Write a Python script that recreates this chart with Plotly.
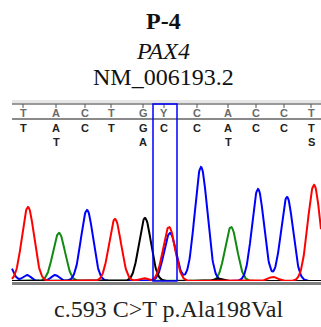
import numpy as np
import plotly.graph_objects as go

W, H = 321, 327

# ---- data ----
title_lines = ["<b>P-4</b>", "<i>PAX4</i>", "NM_006193.2"]
caption = "c.593 C>T p.Ala198Val"

# base calls: scan position, reference base, called base(s)
base_pos = [23, 56, 85, 111, 143, 164, 197, 228, 256, 284, 311]
ref_bases = ["T", "A", "C", "T", "G", "Y", "C", "A", "C", "C", "T"]
call_row1 = ["T", "A", "C", "T", "G", "C", "C", "A", "C", "C", "T"]
call_row2 = ["", "T", "", "", "A", "", "", "T", "", "", "S"]
variant_index = 5

# chromatogram peaks: (scan position, intensity, width)
peaks_red = [(28, 740, 6.0), (115, 620, 6.0), (169, 540, 6.0), (314, 960, 6.3),
             (273, 40, 5.0), (143, 30, 4.0)]
peaks_green = [(59, 480, 6.0), (231, 540, 6.0)]
peaks_blue = [(4, 300, 6.0), (27, 60, 4.0), (55, 60, 4.0), (87, 710, 6.0),
              (170, 480, 6.0), (201, 1140, 6.3), (258, 920, 6.0), (287, 840, 6.0)]
peaks_black = [(145, 630, 6.0), (218, 25, 4.0)]

scan_start, scan_end = 12, 321

# ---- geometry helpers ----
def py(p):
    return (H - p) / H

base_px, top_px = 281, 103
y_top = (base_px - top_px) * 10

scan = np.arange(scan_start, scan_end + 0.25, 0.5)

def trace_signal(peaks):
    s = np.zeros_like(scan, dtype=float)
    for c, h, w in peaks:
        s += h * np.exp(-((scan - c) ** 2) / (2 * w * w))
    return s

fig = go.Figure()
for peaks, col in [(peaks_green, "#108a10"), (peaks_blue, "#0000ff"),
                   (peaks_black, "#000000"), (peaks_red, "#ff0000")]:
    fig.add_trace(go.Scatter(x=scan, y=trace_signal(peaks), mode="lines",
                             line=dict(color=col, width=2), hoverinfo="skip",
                             showlegend=False, cliponaxis=False))

shapes = []
# light band + top line
shapes.append(dict(type="rect", xref="x", yref="paper", x0=scan_start, x1=scan_end,
                   y0=py(103.5), y1=py(100), fillcolor="#e6e6e6", line=dict(width=0), layer="below"))
shapes.append(dict(type="line", xref="x", yref="paper", x0=scan_start, x1=scan_end,
                   y0=py(104), y1=py(104), line=dict(color="#7a7a7a", width=1.5)))
shapes.append(dict(type="line", xref="x", yref="paper", x0=scan_start, x1=scan_end,
                   y0=py(119), y1=py(119), line=dict(color="#8a8a8a", width=2)))
# ticks
for bx in base_pos:
    shapes.append(dict(type="line", xref="x", yref="paper", x0=bx, x1=bx,
                       y0=py(104), y1=py(108), line=dict(color="#555555", width=1)))
# baseline
shapes.append(dict(type="line", xref="x", yref="paper", x0=scan_start, x1=scan_end,
                   y0=py(283.5), y1=py(283.5), line=dict(color="#808080", width=3)))
# variant box
vx = base_pos[variant_index]
shapes.append(dict(type="rect", xref="x", yref="paper", x0=vx - 11, x1=vx + 13,
                   y0=py(281), y1=py(104), line=dict(color="#0000ff", width=1.5)))

ann = []
serif = "Liberation Serif, Times New Roman, serif"
sans = "Liberation Sans, Arial, sans-serif"
for txt, yp in zip(title_lines, [21, 51, 77]):
    ann.append(dict(text=txt, x=0.508, y=py(yp), xref="paper", yref="paper",
                    xanchor="center", yanchor="middle", showarrow=False,
                    font=dict(family=serif, size=24, color="#111111")))
ann.append(dict(text=caption, x=0.525, y=py(309), xref="paper", yref="paper",
                xanchor="center", yanchor="middle", showarrow=False,
                font=dict(family=serif, size=24, color="#222222")))
for bx, r, c1, c2 in zip(base_pos, ref_bases, call_row1, call_row2):
    ann.append(dict(text="<b>%s</b>" % r, x=bx, y=py(113), xref="x", yref="paper",
                    xanchor="center", yanchor="middle", showarrow=False,
                    font=dict(family=sans, size=11, color="#6a6a6a")))
    ann.append(dict(text="<b>%s</b>" % c1, x=bx, y=py(128), xref="x", yref="paper",
                    xanchor="center", yanchor="middle", showarrow=False,
                    font=dict(family=sans, size=11, color="#222222")))
    if c2:
        ann.append(dict(text="<b>%s</b>" % c2, x=bx, y=py(141.5), xref="x", yref="paper",
                        xanchor="center", yanchor="middle", showarrow=False,
                        font=dict(family=sans, size=11, color="#222222")))

fig.update_layout(
    width=W, height=H, margin=dict(l=0, r=0, t=0, b=0),
    paper_bgcolor="white", plot_bgcolor="white",
    xaxis=dict(range=[0, W], visible=False, fixedrange=True),
    yaxis=dict(range=[0, y_top], domain=[py(base_px), py(top_px)], visible=False,
               fixedrange=True),
    shapes=shapes, annotations=ann,
)
fig.write_html("out.html", config={"displayModeBar": False},
               post_script="document.body.style.margin='0';document.body.style.overflow='hidden';")
